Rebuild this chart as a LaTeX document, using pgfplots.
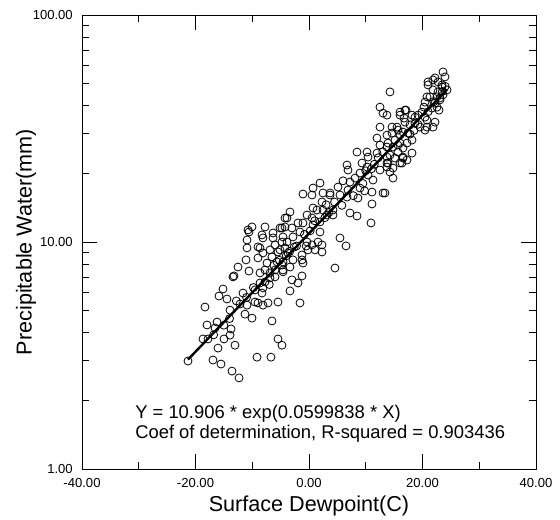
\documentclass[border=0pt]{standalone}
\usepackage{fontspec}
\setmainfont{Liberation Sans}
\usepackage{pgfplots}
\pgfplotsset{compat=1.18}
\begin{document}
\begin{tikzpicture}
\useasboundingbox (-61.5pt,-37.5pt) rectangle (358.5pt,351.75pt);
\begin{axis}[
  at={(0,0)}, anchor=south west,
  scale only axis, width=340.5pt, height=340.5pt,
  xmin=-40, xmax=40, ymin=1, ymax=100, ymode=log,
  xtick={-40,-20,0,20,40}, xticklabels={-40.00,-20.00,0.00,20.00,40.00},
  minor xtick={-30,-10,10,30},
  ytick={1,10,100}, yticklabels={1.00,10.00,100.00},
  minor ytick={2,3,4,5,6,7,8,9,20,30,40,50,60,70,80,90},
  major tick length=11.25pt, minor tick length=5.25pt,
  tick style={black, line width=0.6pt},
  axis line style={line width=0.7pt},
  tick label style={font=\fontsize{9.8}{11}\selectfont, inner sep=0pt},
  xticklabel style={yshift=-7pt},
  yticklabel style={xshift=-6.75pt},
  xlabel={Surface Dewpoint(C)}, ylabel={Precipitable Water(mm)},
  label style={font=\fontsize{16.2}{18}\selectfont},
  xlabel style={at={(axis description cs:0.5,-0.0815)}, anchor=center},
  ylabel style={at={(axis description cs:-0.1233,0.5)}, anchor=center},
]
\addplot[only marks, mark=o, mark size=3pt, mark options={line width=0.6pt, black}] coordinates {
(-13.39,7.02) (-15.15,6.21) (-15.86,5.78) (-14.45,5.61) (-11.63,5.96) (-18.33,5.17)
(-13.92,5.01) (-11.28,4.81) (-10.04,4.62) (-12.16,5.33) (-10.92,5.27) (-9.52,5.44)
(-8.99,5.39) (-8.11,5.27) (-7.22,5.39) (-5.46,5.44) (-6.52,4.49) (-17.97,4.31)
(-16.21,4.44) (-16.56,4.18) (-13.74,4.14) (-13.92,3.89) (-14.98,3.74) (-18.68,3.74)
(-17.80,3.74) (-16.04,3.41) (-13.04,3.51) (-5.46,3.74) (-4.76,3.51) (-21.32,2.99)
(-16.92,3.02) (-15.51,2.90) (-13.57,2.70) (-12.33,2.52) (-9.16,3.11) (-6.70,3.11)
(-8.28,5.96) (-8.11,6.28) (-7.75,6.67) (-6.87,6.95) (-5.99,7.02) (-8.63,6.60) (-9.52,6.15)
(-10.04,11.65) (-10.57,11.07) (-7.75,11.65) (-8.28,10.74) (-4.76,11.53) (-4.23,12.76)
(-6.34,10.42) (-10.92,9.42) (-8.63,9.42) (-8.99,8.51) (-11.10,8.34) (-12.51,7.76)
(-10.57,7.45) (-13.22,7.09) (-8.11,8.95) (-6.87,9.23) (-6.52,8.60) (-7.40,8.08)
(-5.99,9.71) (-5.46,9.04) (-4.76,10.0) (-5.64,8.17) (-7.75,7.53) (-6.87,7.31)
(-5.99,7.53) (-4.76,7.92) (-4.58,7.39) (-8.63,7.31)
(-3.35,13.56) (-3.88,12.76) (-5.11,11.53) (-4.23,11.65) (-3.00,11.53) (-4.58,10.53)
(-2.82,10.53) (-1.59,11.07) (-1.94,12.13) (-1.06,12.13) (-0.35,13.15) (0.71,14.12)
(0.53,12.76) (1.41,13.84) (2.47,13.84) (2.29,15.01) (3.70,16.11) (4.23,13.84)
(4.23,13.15) (3.17,13.15) (0.71,11.89) (1.94,12.26) (1.94,11.07) (1.59,10.0)
(-0.35,10.0) (0.53,9.71) (2.29,9.71) (1.06,9.23) (2.29,9.04) (-0.18,9.23)
(-1.23,8.77) (-3.88,10.0) (-4.23,9.42) (-3.70,8.95) (-5.11,9.23) (-4.58,8.17)
(-2.82,8.34) (-1.23,8.34) (-1.06,8.08) (-3.35,7.76) (-4.58,7.53) (-1.23,7.09)
(-3.00,6.81) (-1.94,6.60) (-3.35,6.09) (-1.59,5.39) (7.22,13.42) (8.46,13.02)
(10.93,12.13) (11.10,14.71) (8.63,15.62) (6.70,15.78) (5.46,10.42) (6.52,9.61) (4.58,7.68)
(12.51,32.08) (13.74,29.58) (8.46,24.90) (10.22,24.90) (11.98,28.70) (12.51,26.73)
(13.74,26.20) (10.40,23.67) (11.98,24.65) (13.74,23.67) (6.70,21.83) (6.87,20.75)
(9.34,22.28) (10.22,21.39) (8.99,20.13) (10.40,19.73) (8.11,19.13) (11.28,18.75)
(12.51,20.75) (13.74,21.39) (13.04,16.44) (5.11,17.46) (1.94,18.19) (0.71,17.29)
(-1.06,16.27) (7.22,18.37) (8.99,17.29) (11.10,16.60) (5.46,16.11) (3.70,16.44)
(2.47,16.44) (0.53,16.11) (6.87,16.94)
(14.27,45.84) (12.51,39.29) (13.04,36.96) (17.09,38.11) (16.04,36.22) (16.74,35.14)
(18.15,36.22) (18.68,35.49) (19.56,32.08) (20.79,32.08) (22.20,33.73) (20.44,35.49)
(20.26,39.29) (21.67,38.89) (20.79,43.58) (21.85,46.77) (20.97,49.20) (21.85,51.76)
(22.73,50.72) (23.61,56.13) (23.96,53.36) (23.44,48.21) (24.32,46.77) (22.55,43.58)
(23.08,42.27) (22.20,40.92) (22.91,38.11) (23.61,44.47) (15.51,32.08) (16.56,30.50)
(17.44,30.19) (18.15,28.12) (17.27,27.28) (16.04,27.28) (15.15,28.12) (14.80,26.20)
(18.15,24.65) (16.56,23.67) (15.68,24.90) (14.80,21.18) (13.74,22.28) (16.39,22.28)
(17.27,22.96)
(16.92,38.11) (16.04,37.34) (13.74,36.22) (20.97,50.72) (22.20,52.82) (23.44,49.20)
(22.73,45.84) (21.32,43.58) (20.44,41.33) (23.08,43.13) (19.91,37.34) (22.55,39.29)
(19.21,36.22) (18.68,33.39) (20.79,34.43) (21.85,32.08) (16.92,33.73) (14.63,32.08)
(15.68,31.12) (14.63,30.19) (16.04,29.58) (17.80,29.88) (13.92,27.28) (15.68,26.73)
(16.56,25.93) (14.27,24.16) (15.15,23.43) (16.56,23.43) (13.92,22.28) (16.04,22.28)
(14.27,20.33) (14.80,19.13) (13.39,16.44) (20.44,31.12)
(-10.75,11.30) (-10.92,10.21) (-8.11,10.42) (-6.34,10.96) (-8.99,9.52)
(4.5,15.0) (5.8,14.5) (3.0,14.6) (6.0,18.6) (7.8,16.0) (9.5,18.1) (10.0,20.6)
(11.5,22.0) (9.8,16.8) (-0.8,10.8) (0.2,11.2) (1.0,12.4) (-2.2,9.6) (-0.5,9.6)
(-6.2,7.9) (-7.0,6.5) (-5.2,8.3) (-4.0,8.7) (-3.4,9.1) (-2.6,9.5) (12.2,23.5)
(13.0,25.0) (11.0,21.0) (2.8,12.8) (3.5,13.5) (-9.8,6.3) (-11.0,5.7) (-12.8,5.5)
(-14.0,4.6) (-15.0,4.3) (-16.8,3.9) (18.5,31.0) (19.2,33.0) (17.8,32.8) (21.0,37.5)
(22.0,41.5) (23.5,46.0) (24.0,48.5)
};
\addplot[black, line width=1.8pt] coordinates {(-21.32,3.036) (24.32,46.91)};
\node[anchor=west, font=\fontsize{13.8}{15}\selectfont, inner sep=0pt] at (axis cs:-30.66,1.75) {Y = 10.906 * exp(0.0599838 * X)};
\node[anchor=west, font=\fontsize{13.8}{15}\selectfont, inner sep=0pt] at (axis cs:-30.66,1.43) {Coef of determination, R-squared = 0.903436};
\end{axis}
\end{tikzpicture}
\end{document}
